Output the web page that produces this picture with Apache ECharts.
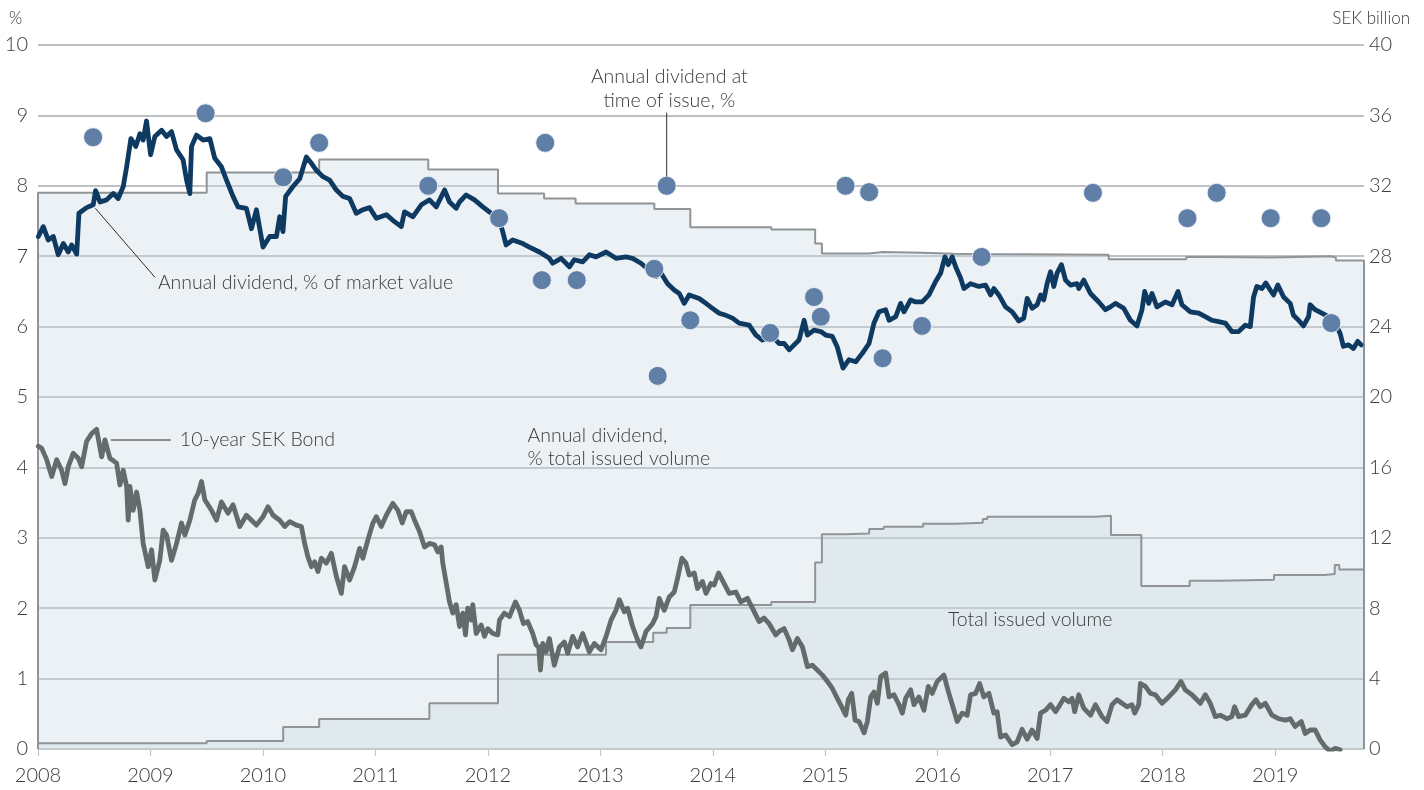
<!DOCTYPE html>
<html>
<head>
<meta charset="utf-8">
<script src="https://cdn.jsdelivr.net/npm/echarts@6/dist/echarts.min.js"></script>
<style>
html,body{margin:0;padding:0;background:#fff;}
#chart{width:1424px;height:790px;}
</style>
</head>
<body>
<div id="chart"></div>
<script>
// ---------- DATA ----------
const yearTicks = [2008,2009,2010,2011,2012,2013,2014,2015,2016,2017,2018,2019];
const xStart = 2008, xEnd = 2019.79;

// Annual dividend, % of total issued volume (left axis, %) : [change date, new value]
const divVolSteps = [
  [2008.0,7.9],[2009.50,8.19],[2010.50,8.375],[2011.47,8.23],[2012.09,7.89],[2012.50,7.82],
  [2012.78,7.75],[2013.48,7.67],[2013.80,7.41],[2014.52,7.38],[2014.91,7.18],[2014.97,7.04],
  [2015.39,7.06],[2015.51,7.05],[2015.86,7.035],[2016.14,7.03],[2016.39,7.02],[2017.52,6.955],
  [2018.21,6.99],[2018.48,6.98],[2018.97,7.0],[2019.50,6.98],[2019.54,6.94]
];

// Total issued volume (right axis, SEK billion) : [change date, new value]
const volumeSteps = [
  [2008.0,0.33],[2009.50,0.46],[2010.18,1.25],[2010.50,1.7],[2011.48,2.6],[2012.09,5.35],
  [2013.05,6.08],[2013.47,6.6],[2013.59,6.88],[2013.80,8.18],[2014.52,8.35],[2014.91,10.6],
  [2014.97,12.2],[2015.18,12.25],[2015.39,12.5],[2015.52,12.63],[2015.87,12.8],[2016.16,12.86],
  [2016.40,13.07],[2016.44,13.2],[2017.40,13.25],[2017.54,12.16],[2017.81,9.26],[2018.24,9.56],
  [2018.50,9.62],[2018.99,9.89],[2019.44,9.94],[2019.53,10.45],[2019.57,10.2]
];

// Annual dividend, % of market value (left axis)
const divMarket = [
  [2008.003,7.28],[2008.047,7.42],[2008.091,7.23],[2008.136,7.28],[2008.180,7.02],[2008.225,7.18],
  [2008.269,7.06],[2008.299,7.16],[2008.344,7.03],[2008.364,7.61],[2008.432,7.69],[2008.491,7.73],
  [2008.512,7.93],[2008.551,7.77],[2008.610,7.80],[2008.669,7.89],[2008.713,7.82],[2008.758,7.99],
  [2008.788,8.27],[2008.826,8.67],[2008.870,8.56],[2008.906,8.74],[2008.935,8.65],[2008.965,8.92],
  [2009.001,8.44],[2009.039,8.70],[2009.099,8.79],[2009.143,8.70],[2009.187,8.77],[2009.232,8.51],
  [2009.290,8.37],[2009.321,8.08],[2009.350,7.89],[2009.365,8.56],[2009.409,8.72],[2009.468,8.65],
  [2009.528,8.67],[2009.572,8.39],[2009.631,8.27],[2009.676,8.08],[2009.734,7.85],[2009.779,7.70],
  [2009.853,7.68],[2009.898,7.39],[2009.942,7.66],[2010.001,7.13],[2010.060,7.28],[2010.120,7.28],
  [2010.149,7.56],[2010.178,7.35],[2010.202,7.85],[2010.267,7.99],[2010.327,8.10],[2010.386,8.41],
  [2010.431,8.32],[2010.475,8.22],[2010.534,8.13],[2010.593,8.08],[2010.653,7.94],[2010.711,7.85],
  [2010.771,7.82],[2010.830,7.61],[2010.889,7.66],[2010.948,7.69],[2011.008,7.54],[2011.097,7.59],
  [2011.155,7.51],[2011.230,7.42],[2011.259,7.63],[2011.333,7.56],[2011.408,7.73],[2011.481,7.80],
  [2011.541,7.70],[2011.615,7.94],[2011.659,7.77],[2011.718,7.68],[2011.748,7.77],[2011.807,7.87],
  [2011.881,7.80],[2011.955,7.70],[2012.029,7.61],[2012.103,7.51],[2012.132,7.35],[2012.162,7.16],
  [2012.221,7.23],[2012.310,7.18],[2012.369,7.13],[2012.458,7.06],[2012.547,6.97],[2012.576,6.90],
  [2012.651,6.97],[2012.725,6.85],[2012.769,6.95],[2012.843,6.92],[2012.902,7.02],[2012.962,6.99],
  [2013.051,7.06],[2013.139,6.97],[2013.228,6.99],[2013.287,6.97],[2013.361,6.90],[2013.435,6.80],
  [2013.495,6.71],[2013.539,6.76],[2013.598,6.61],[2013.657,6.52],[2013.702,6.47],[2013.746,6.33],
  [2013.790,6.45],[2013.879,6.40],[2013.939,6.33],[2013.997,6.26],[2014.057,6.19],[2014.116,6.16],
  [2014.175,6.12],[2014.234,6.05],[2014.323,6.02],[2014.383,5.88],[2014.441,5.81],[2014.530,5.86],
  [2014.590,5.76],[2014.634,5.76],[2014.679,5.67],[2014.723,5.74],[2014.767,5.81],[2014.812,6.09],
  [2014.841,5.88],[2014.900,5.95],[2014.960,5.93],[2015.004,5.88],[2015.063,5.86],[2015.107,5.71],
  [2015.137,5.53],[2015.158,5.41],[2015.211,5.53],[2015.271,5.50],[2015.329,5.62],[2015.389,5.76],
  [2015.433,6.05],[2015.478,6.21],[2015.537,6.24],[2015.567,6.09],[2015.626,6.14],[2015.670,6.33],
  [2015.700,6.21],[2015.759,6.38],[2015.803,6.35],[2015.862,6.35],[2015.922,6.45],[2015.981,6.64],
  [2016.026,6.76],[2016.064,6.99],[2016.093,6.88],[2016.129,6.99],[2016.159,6.85],[2016.203,6.69],
  [2016.233,6.54],[2016.292,6.61],[2016.366,6.57],[2016.425,6.59],[2016.470,6.45],[2016.499,6.54],
  [2016.543,6.45],[2016.603,6.28],[2016.662,6.21],[2016.721,6.08],[2016.765,6.12],[2016.795,6.40],
  [2016.839,6.26],[2016.884,6.31],[2016.914,6.45],[2016.943,6.38],[2016.972,6.61],[2017.003,6.78],
  [2017.032,6.57],[2017.061,6.76],[2017.100,6.88],[2017.136,6.66],[2017.180,6.59],[2017.239,6.61],
  [2017.254,6.54],[2017.298,6.66],[2017.358,6.47],[2017.432,6.35],[2017.491,6.24],[2017.535,6.28],
  [2017.580,6.33],[2017.654,6.26],[2017.713,6.09],[2017.772,6.01],[2017.816,6.24],[2017.840,6.50],
  [2017.876,6.33],[2017.905,6.47],[2017.949,6.28],[2018.024,6.35],[2018.083,6.31],[2018.136,6.50],
  [2018.171,6.31],[2018.246,6.21],[2018.320,6.19],[2018.379,6.14],[2018.438,6.09],[2018.497,6.07],
  [2018.557,6.05],[2018.615,5.93],[2018.675,5.93],[2018.734,6.02],[2018.779,6.00],[2018.808,6.42],
  [2018.837,6.57],[2018.882,6.54],[2018.917,6.62],[2018.956,6.52],[2018.986,6.45],[2019.024,6.59],
  [2019.075,6.42],[2019.134,6.33],[2019.163,6.16],[2019.208,6.09],[2019.252,6.01],[2019.297,6.14],
  [2019.311,6.31],[2019.356,6.24],[2019.415,6.19],[2019.474,6.14],[2019.534,6.05],[2019.578,5.90],
  [2019.607,5.72],[2019.652,5.74],[2019.696,5.69],[2019.734,5.79],[2019.765,5.74]
];

// 10-year SEK Bond yield (left axis, %)
const bond10y = [
  [2008.003,4.30],[2008.033,4.27],[2008.077,4.11],[2008.122,3.87],[2008.166,4.11],[2008.210,3.96],
  [2008.240,3.77],[2008.269,4.01],[2008.313,4.20],[2008.358,4.13],[2008.388,4.01],[2008.432,4.37],
  [2008.477,4.48],[2008.521,4.54],[2008.566,4.15],[2008.595,4.39],[2008.639,4.13],[2008.699,4.06],
  [2008.728,3.75],[2008.758,3.96],[2008.788,3.73],[2008.802,3.25],[2008.817,3.73],[2008.846,3.39],
  [2008.877,3.65],[2008.906,3.39],[2008.935,2.92],[2008.980,2.59],[2009.010,2.83],[2009.039,2.40],
  [2009.083,2.68],[2009.113,3.11],[2009.143,3.04],[2009.187,2.68],[2009.232,2.92],[2009.276,3.21],
  [2009.306,3.04],[2009.350,3.25],[2009.394,3.54],[2009.424,3.63],[2009.454,3.80],[2009.483,3.54],
  [2009.543,3.39],[2009.587,3.25],[2009.631,3.51],[2009.690,3.35],[2009.734,3.47],[2009.794,3.16],
  [2009.853,3.32],[2009.898,3.25],[2009.942,3.18],[2010.001,3.30],[2010.045,3.44],[2010.090,3.32],
  [2010.149,3.25],[2010.194,3.16],[2010.238,3.23],[2010.297,3.18],[2010.342,3.16],[2010.371,2.92],
  [2010.400,2.73],[2010.431,2.59],[2010.460,2.66],[2010.489,2.52],[2010.520,2.71],[2010.564,2.64],
  [2010.608,2.78],[2010.653,2.45],[2010.697,2.21],[2010.726,2.59],[2010.771,2.40],[2010.815,2.59],
  [2010.860,2.85],[2010.889,2.71],[2010.933,2.97],[2010.978,3.21],[2011.008,3.30],[2011.052,3.16],
  [2011.097,3.32],[2011.155,3.49],[2011.200,3.39],[2011.239,3.21],[2011.274,3.37],[2011.319,3.37],
  [2011.348,3.25],[2011.392,3.09],[2011.437,2.87],[2011.481,2.92],[2011.526,2.90],[2011.555,2.80],
  [2011.585,2.87],[2011.599,2.64],[2011.635,2.31],[2011.659,2.09],[2011.688,1.93],[2011.718,2.05],
  [2011.748,1.74],[2011.777,1.93],[2011.801,1.62],[2011.821,2.00],[2011.852,1.83],[2011.866,2.05],
  [2011.896,1.64],[2011.941,1.76],[2011.970,1.60],[2011.999,1.71],[2012.044,1.64],[2012.088,1.62],
  [2012.103,1.83],[2012.147,1.93],[2012.192,1.88],[2012.245,2.09],[2012.281,1.97],[2012.316,1.78],
  [2012.354,1.81],[2012.399,1.64],[2012.429,1.48],[2012.452,1.45],[2012.467,1.12],[2012.488,1.50],
  [2012.518,1.38],[2012.547,1.57],[2012.591,1.19],[2012.636,1.45],[2012.680,1.52],[2012.710,1.36],
  [2012.754,1.60],[2012.798,1.45],[2012.843,1.64],[2012.902,1.38],[2012.947,1.50],[2013.006,1.41],
  [2013.051,1.60],[2013.095,1.83],[2013.139,1.97],[2013.169,2.12],[2013.213,1.95],[2013.242,2.00],
  [2013.287,1.74],[2013.331,1.55],[2013.361,1.45],[2013.406,1.67],[2013.464,1.78],[2013.495,1.88],
  [2013.524,2.14],[2013.568,1.97],[2013.613,2.16],[2013.657,2.23],[2013.686,2.42],[2013.725,2.71],
  [2013.761,2.64],[2013.790,2.47],[2013.835,2.50],[2013.864,2.28],[2013.908,2.38],[2013.939,2.21],
  [2013.983,2.35],[2014.012,2.33],[2014.051,2.50],[2014.101,2.35],[2014.146,2.21],[2014.205,2.23],
  [2014.249,2.09],[2014.308,2.14],[2014.352,2.00],[2014.412,1.81],[2014.456,1.86],[2014.501,1.78],
  [2014.560,1.62],[2014.590,1.67],[2014.634,1.71],[2014.679,1.55],[2014.708,1.41],[2014.752,1.57],
  [2014.797,1.45],[2014.841,1.17],[2014.885,1.19],[2014.930,1.12],[2014.974,1.05],[2015.019,0.96],
  [2015.063,0.86],[2015.107,0.72],[2015.152,0.58],[2015.182,0.48],[2015.205,0.70],[2015.235,0.79],
  [2015.265,0.41],[2015.300,0.39],[2015.345,0.23],[2015.374,0.39],[2015.404,0.74],[2015.433,0.81],
  [2015.463,0.65],[2015.493,1.03],[2015.537,1.08],[2015.567,0.74],[2015.611,0.77],[2015.655,0.63],
  [2015.685,0.51],[2015.715,0.72],[2015.759,0.84],[2015.789,0.63],[2015.833,0.74],[2015.877,0.55],
  [2015.916,0.89],[2015.951,0.79],[2015.995,0.96],[2016.055,1.05],[2016.099,0.79],[2016.144,0.55],
  [2016.173,0.39],[2016.218,0.51],[2016.262,0.48],[2016.292,0.77],[2016.337,0.79],[2016.372,0.93],
  [2016.410,0.74],[2016.455,0.79],[2016.499,0.51],[2016.528,0.53],[2016.558,0.17],[2016.603,0.20],
  [2016.662,0.06],[2016.706,0.10],[2016.750,0.28],[2016.795,0.14],[2016.839,0.27],[2016.884,0.15],
  [2016.914,0.51],[2016.958,0.55],[2017.003,0.63],[2017.047,0.53],[2017.076,0.60],[2017.121,0.72],
  [2017.165,0.67],[2017.194,0.72],[2017.218,0.53],[2017.254,0.77],[2017.298,0.58],[2017.358,0.48],
  [2017.402,0.63],[2017.461,0.46],[2017.505,0.39],[2017.550,0.63],[2017.594,0.70],[2017.638,0.65],
  [2017.683,0.60],[2017.727,0.63],[2017.751,0.51],[2017.787,0.63],[2017.802,0.93],[2017.846,0.89],
  [2017.891,0.79],[2017.935,0.77],[2017.994,0.65],[2018.053,0.74],[2018.113,0.84],[2018.162,0.96],
  [2018.201,0.84],[2018.260,0.77],[2018.335,0.65],[2018.379,0.77],[2018.423,0.65],[2018.468,0.46],
  [2018.512,0.48],[2018.571,0.43],[2018.615,0.46],[2018.639,0.60],[2018.675,0.46],[2018.734,0.48],
  [2018.793,0.63],[2018.829,0.70],[2018.868,0.60],[2018.912,0.65],[2018.971,0.48],[2019.030,0.43],
  [2019.092,0.41],[2019.134,0.43],[2019.178,0.32],[2019.232,0.39],[2019.267,0.22],[2019.311,0.27],
  [2019.356,0.27],[2019.400,0.13],[2019.445,0.03],[2019.489,-0.03],[2019.534,0.01],[2019.578,-0.01]
];

// Annual dividend at time of issue, % (scatter)
const issueDividend = [
  [2008.49,8.69],[2009.49,9.03],[2010.18,8.12],[2010.50,8.61],[2011.47,8.00],[2012.10,7.54],
  [2012.51,8.61],[2012.48,6.66],[2012.79,6.66],[2013.59,8.00],[2013.48,6.82],[2013.51,5.30],
  [2013.80,6.09],[2014.51,5.91],[2014.90,6.42],[2014.96,6.14],[2015.18,8.00],[2015.39,7.91],
  [2015.51,5.55],[2015.86,6.01],[2016.39,6.99],[2017.38,7.90],[2018.22,7.54],[2018.48,7.90],
  [2018.96,7.54],[2019.41,7.54],[2019.50,6.05]
];

// ---------- BUILD ----------
function closedSteps(steps){
  const first = steps[0], last = steps[steps.length-1];
  return [[first[0],0]].concat(steps, [[xEnd,last[1]],[xEnd,0]]);
}

const FONT = 'Lato, "Open Sans", sans-serif';
const TXT = '#3a3a3a';
const W = 300;

const chart = echarts.init(document.getElementById('chart'), null, {renderer:'canvas'});

const option = {
  animation:false,
  backgroundColor:'#ffffff',
  textStyle:{fontFamily:FONT, color:TXT, fontWeight:W},
  grid:{left:38, right:60, top:45, bottom:41, containLabel:false},
  xAxis:{
    type:'value', min:xStart, max:xEnd, interval:1,
    axisLine:{show:true, lineStyle:{color:'#c3c7c9', width:1.5}},
    axisTick:{show:true, length:7, lineStyle:{color:'#c3c7c9', width:1.2}, customValues:yearTicks},
    axisLabel:{fontSize:20, color:TXT, margin:17, fontFamily:FONT, fontWeight:W, customValues:yearTicks,
      formatter:v=>String(Math.round(v))},
    splitLine:{show:false}
  },
  yAxis:[
    {
      type:'value', min:0, max:10, interval:1, position:'left',
      axisLine:{show:false}, axisTick:{show:false},
      axisLabel:{fontSize:20, color:TXT, margin:10, fontFamily:FONT, fontWeight:W},
      splitLine:{show:true, lineStyle:{color:'#a9adb0', width:1.5}}
    },
    {
      type:'value', min:0, max:40, interval:4, position:'right',
      axisLine:{show:false}, axisTick:{show:false},
      axisLabel:{fontSize:20, color:TXT, margin:5, fontFamily:FONT, fontWeight:W},
      splitLine:{show:false}
    }
  ],
  series:[
    {
      name:'Annual dividend, % total issued volume', type:'line', step:'end',
      data:closedSteps(divVolSteps), yAxisIndex:0, showSymbol:false, z:1,
      lineStyle:{color:'#909496', width:2},
      areaStyle:{color:'rgba(204,220,229,0.56)', origin:'start'}
    },
    {
      name:'Total issued volume', type:'line', step:'end',
      data:closedSteps(volumeSteps), yAxisIndex:1, showSymbol:false, z:1,
      lineStyle:{color:'#909496', width:2},
      areaStyle:{color:'rgba(190,208,218,0.34)', origin:'start'}
    },
    {
      name:'10-year SEK Bond', type:'line', data:bond10y, yAxisIndex:0,
      showSymbol:false, z:3,
      lineStyle:{color:'#646b6b', width:4.8, join:'round', cap:'round'}
    },
    {
      name:'Annual dividend, % of market value', type:'line', data:divMarket, yAxisIndex:0,
      showSymbol:false, z:4,
      lineStyle:{color:'#0e3a62', width:4.8, join:'round', cap:'round'}
    },
    {
      name:'Annual dividend at time of issue, %', type:'scatter', data:issueDividend, yAxisIndex:0,
      symbolSize:19, z:5,
      itemStyle:{color:'#5f7fa6', borderColor:'rgba(235,241,245,0.9)', borderWidth:1, opacity:1}
    }
  ]
};
chart.setOption(option);

// ---------- ANNOTATIONS (anchored in data space) ----------
function px(p){ return chart.convertToPixel({xAxisIndex:0, yAxisIndex:0}, p); }
function label(text, p, align){
  const q = px(p);
  return {type:'text', x:q[0], y:q[1], z:20,
    style:{text:text, fill:TXT, font:W+' 19.5px '+FONT, textAlign:align||'left', textVerticalAlign:'middle'}};
}
function leader(a, b){
  const p1 = px(a), p2 = px(b);
  return {type:'line', z:20, shape:{x1:p1[0], y1:p1[1], x2:p2[0], y2:p2[1]},
    style:{stroke:'#2b2b2b', lineWidth:1}};
}
chart.setOption({
  graphic:[
    {type:'text', left:9, top:10, z:20, style:{text:'%', fill:TXT, font:W+' 17px '+FONT}},
    {type:'text', right:14, top:10, z:20, style:{text:'SEK billion', fill:TXT, font:W+' 17px '+FONT}},
    label('Annual dividend at', [2013.613, 9.545], 'center'),
    label('time of issue, %', [2013.613, 9.205], 'center'),
    leader([2013.59, 9.04], [2013.59, 8.13]),
    label('Annual dividend, % of market value', [2009.066, 6.62], 'left'),
    leader([2008.51, 7.68], [2009.04, 6.70]),
    label('10-year SEK Bond', [2009.261, 4.389], 'left'),
    leader([2008.648, 4.389], [2009.181, 4.389]),
    label('Annual dividend,', [2012.352, 4.446], 'left'),
    label('% total issued volume', [2012.352, 4.119], 'left'),
    label('Total issued volume', [2016.091, 1.832], 'left')
  ]
});
</script>
</body>
</html>
